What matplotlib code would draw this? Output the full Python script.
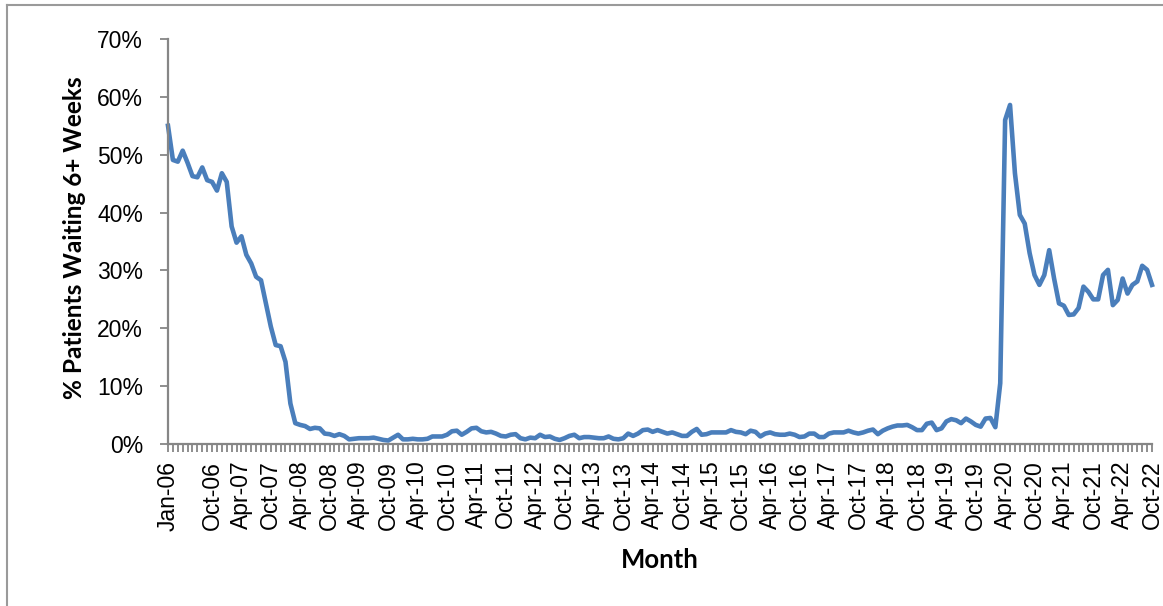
import numpy as np
import pandas as pd
import matplotlib
matplotlib.use("Agg")
import matplotlib.pyplot as plt
from matplotlib.ticker import PercentFormatter, FixedLocator, MultipleLocator
from matplotlib.lines import Line2D

# % of patients waiting 6+ weeks, monthly Jan-06 .. Oct-22
pct_2006_2009 = [55.0, 49.1, 48.8, 50.7, 48.6, 46.3, 46.1, 47.8, 45.6, 45.3, 43.8, 46.8,
                 45.3, 37.6, 34.8, 35.9, 32.7, 31.2, 28.9, 28.3, 24.3, 20.3, 17.1, 16.9,
                 14.2, 7.0, 3.6, 3.3, 3.1, 2.6, 2.8, 2.7, 1.8, 1.7, 1.4, 1.7,
                 1.4, 0.8, 0.9]
pct_2009_2014 = [1.0, 1.0, 1.0, 1.1, 0.9, 0.7, 0.6, 1.1, 1.6, 0.8, 0.8, 0.9,
                 0.8, 0.8, 0.9, 1.3, 1.3, 1.3, 1.6, 2.2, 2.3, 1.6, 2.1, 2.7,
                 2.8, 2.2, 2.0, 2.1, 1.8, 1.4, 1.3, 1.6, 1.7, 1.0, 0.8, 1.1,
                 1.0, 1.6, 1.2, 1.3, 0.9, 0.7, 1.0, 1.4, 1.6, 1.0, 1.2, 1.2,
                 1.1, 1.0, 1.0, 1.3, 0.9, 0.8, 1.0, 1.8, 1.4, 1.8, 2.4, 2.5]
pct_2014_2019 = [2.1, 2.4, 2.1, 1.8, 2.0, 1.7, 1.4, 1.4, 2.1, 2.6, 1.6, 1.7,
                 2.0, 2.0, 2.0, 2.0, 2.4, 2.1, 2.0, 1.7, 2.3, 2.1, 1.3, 1.8,
                 2.0, 1.7, 1.6, 1.6, 1.8, 1.6, 1.2, 1.3, 1.8, 1.8, 1.2, 1.2,
                 1.8, 2.0, 2.0, 2.0, 2.3, 2.0, 1.8, 2.0, 2.3, 2.5, 1.7, 2.3,
                 2.7, 3.0, 3.2, 3.2, 3.3, 2.9, 2.4, 2.4, 3.5, 3.7, 2.4, 2.7,
                 3.9, 4.3, 4.1]
pct_2019_2022 = [3.6, 4.4, 3.9, 3.3, 3.0, 4.4, 4.5, 2.9, 10.5, 56.0, 58.6, 46.8,
                 39.6, 38.1, 33.0, 29.2, 27.5, 29.2, 33.5, 28.6, 24.3, 23.9, 22.3, 22.4,
                 23.5, 27.2, 26.3, 25.0, 25.0, 29.2, 30.1, 24.0, 24.9, 28.6, 26.0, 27.5,
                 28.1, 30.8, 30.1, 27.5]

pct = np.array(pct_2006_2009 + pct_2009_2014 + pct_2014_2019 + pct_2019_2022) / 100.0
months = pd.date_range("2006-01-01", periods=len(pct), freq="MS")
month_labels = [m.strftime("%b-%y") for m in months]

# labelled months: Jan-06, then every 6th month from Oct-06
label_idx = [0] + list(range(9, len(pct), 6))

fig = plt.figure(figsize=(11.63, 6.06), dpi=100)
ax = fig.add_axes([168 / 1163, 162 / 606, (1152 - 168) / 1163, (567 - 162) / 606])

x = np.arange(len(pct))
ax.plot(x, pct, color="#4A7EBB", lw=3.3, solid_joinstyle="round", clip_on=False)

ax.set_xlim(0, len(pct) - 1)
ax.set_ylim(0, 0.7)
ax.yaxis.set_major_locator(MultipleLocator(0.1))
ax.yaxis.set_major_formatter(PercentFormatter(1.0, decimals=0))

ax.set_xticks(label_idx)
ax.set_xticklabels([month_labels[i] for i in label_idx], rotation=90,
                   family="Liberation Sans", fontsize=16.5)
ax.xaxis.set_minor_locator(MultipleLocator(1))
ax.tick_params(axis="x", which="both", length=6, width=1.3, color="#868686", pad=6)
ax.tick_params(axis="y", which="major", length=6, width=1.3, color="#868686",
               labelsize=16.5, pad=12)
for lab in ax.get_yticklabels():
    lab.set_family("Liberation Sans")

for side in ["top", "right"]:
    ax.spines[side].set_visible(False)
for side in ["left", "bottom"]:
    ax.spines[side].set_color("#868686")
    ax.spines[side].set_linewidth(1.6)

fig.text(75 / 1163, 1 - 238 / 606, "% Patients Waiting 6+ Weeks", rotation=90,
         ha="center", va="center", family="Lato", fontweight="bold", fontsize=17.6)
fig.text(660 / 1163, 1 - 560 / 606, "Month", ha="center", va="center",
         family="Lato", fontweight="bold", fontsize=18.5)

# chart area border (top and left edges visible)
fig.add_artist(Line2D([7 / 1163, 1], [1 - 5 / 606, 1 - 5 / 606], color="#9A9A9A", lw=1.5))
fig.add_artist(Line2D([7 / 1163, 7 / 1163], [0, 1 - 5 / 606], color="#9A9A9A", lw=1.5))

fig.savefig("out.png", dpi=100)
